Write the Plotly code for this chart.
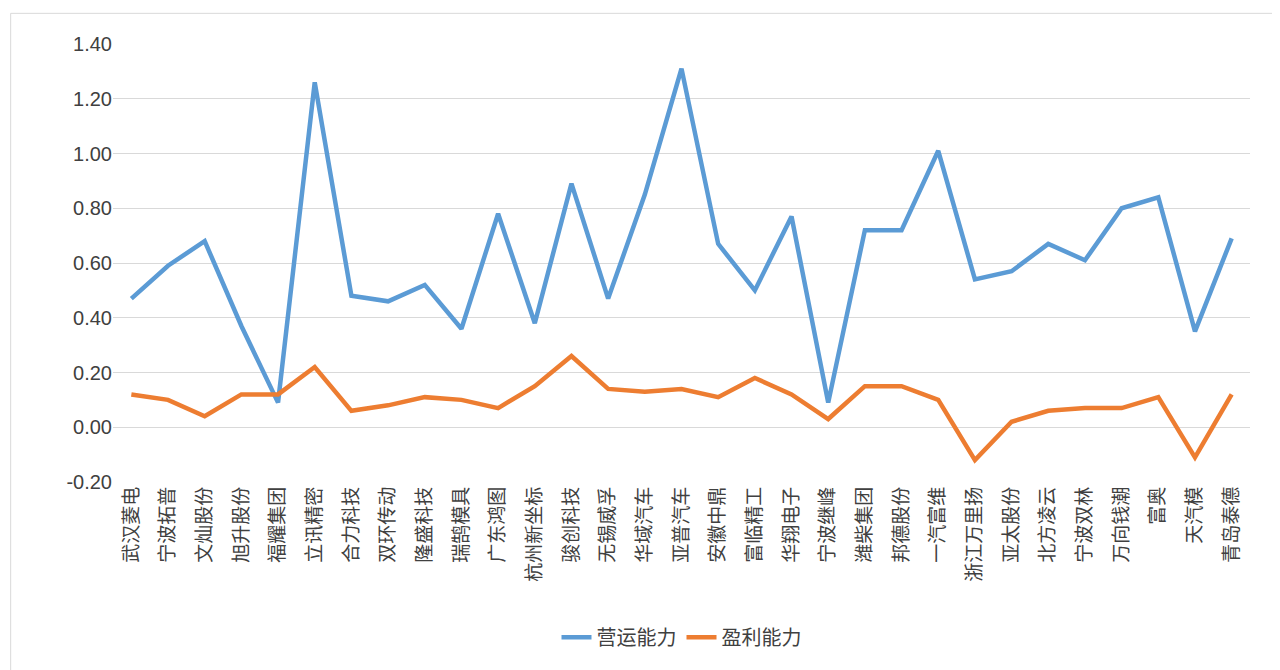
import plotly.graph_objects as go

companies = ["武汉菱电", "宁波拓普", "文灿股份", "旭升股份", "福耀集团", "立讯精密", "合力科技",
             "双环传动", "隆盛科技", "瑞鹄模具", "广东鸿图", "杭州新坐标", "骏创科技", "无锡威孚",
             "华域汽车", "亚普汽车", "安徽中鼎", "富临精工", "华翔电子", "宁波继峰", "潍柴集团",
             "邦德股份", "一汽富维", "浙江万里扬", "亚太股份", "北方凌云", "宁波双林", "万向钱潮",
             "富奥", "天汽模", "青岛泰德"]
operating = [0.47, 0.59, 0.68, 0.37, 0.09, 1.26, 0.48, 0.46, 0.52, 0.36, 0.78, 0.38, 0.89, 0.47,
             0.85, 1.31, 0.67, 0.50, 0.77, 0.09, 0.72, 0.72, 1.01, 0.54, 0.57, 0.67, 0.61, 0.80,
             0.84, 0.35, 0.69]
profit = [0.12, 0.10, 0.04, 0.12, 0.12, 0.22, 0.06, 0.08, 0.11, 0.10, 0.07, 0.15, 0.26, 0.14,
          0.13, 0.14, 0.11, 0.18, 0.12, 0.03, 0.15, 0.15, 0.10, -0.12, 0.02, 0.06, 0.07, 0.07,
          0.11, -0.11, 0.12]
y_ticks = [-0.2, 0.0, 0.2, 0.4, 0.6, 0.8, 1.0, 1.2, 1.4]

font = "Noto Sans CJK SC"
fig = go.Figure()
fig.add_trace(go.Scatter(x=companies, y=operating, name="营运能力", mode="lines",
                         line=dict(color="#5b9bd5", width=4.5)))
fig.add_trace(go.Scatter(x=companies, y=profit, name="盈利能力", mode="lines",
                         line=dict(color="#ed7d31", width=4.5)))

fig.update_layout(
    width=1280, height=670,
    margin=dict(l=105, r=38, t=36, b=196),
    plot_bgcolor="white", paper_bgcolor="white",
    font=dict(family=font, size=17, color="#404040"),
    legend=dict(orientation="h", x=0.5, xanchor="center", y=-0.31, yanchor="top",
                font=dict(size=20)),
    xaxis=dict(tickangle=-90, tickfont=dict(size=19), showgrid=False, automargin=False,
               range=[-0.5, len(companies) - 0.5]),
    yaxis=dict(range=[-0.2, 1.4], tickvals=y_ticks,
               ticktext=[f"{v:.2f}" for v in y_ticks],
               tickfont=dict(family="Liberation Sans", size=20),
               gridcolor="#d9d9d9", zeroline=False, showline=False, ticks="",
               automargin=False),
    shapes=[dict(type="rect", xref="paper", yref="paper", x0=-0.09, x1=1.03, y0=-0.44, y1=1.07,
                 line=dict(color="#d9d9d9", width=1))],
)
fig.write_html("out.html")
